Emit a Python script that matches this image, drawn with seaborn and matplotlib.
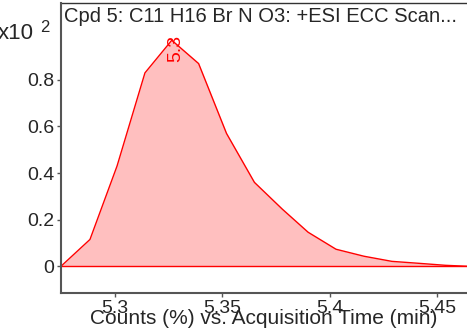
import numpy as np
import pandas as pd
import seaborn as sns
import matplotlib.pyplot as plt

# data
acq_time = [5.2749, 5.2884, 5.3010, 5.3140, 5.3265, 5.3390, 5.3520, 5.3650,
            5.3780, 5.3900, 5.4030, 5.4160, 5.4290, 5.4410, 5.4540, 5.4640]
counts = [0.0, 0.115, 0.43, 0.83, 0.97, 0.87, 0.57, 0.36,
          0.245, 0.146, 0.073, 0.043, 0.021, 0.013, 0.004, 0.0]
peak_label = '5.3'
title = 'Cpd 5: C11 H16 Br N O3: +ESI ECC Scan...'
xticks = [5.3, 5.35, 5.4, 5.45]
xtick_labels = ['5.3', '5.35', '5.4', '5.45']
yticks = [0, 0.2, 0.4, 0.6, 0.8]
ytick_labels = ['0', '0.2', '0.4', '0.6', '0.8']

df = pd.DataFrame({'time': acq_time, 'counts': counts})

sns.set_style('white')
plt.rcParams['font.family'] = ['Liberation Sans', 'DejaVu Sans']

fig = plt.figure(figsize=(4.67, 3.33), dpi=100)
ax = fig.add_axes([0.1306, 0.12, 0.8694, 0.871])

ax.fill_between(df['time'], df['counts'], color='#ffbfbf', lw=0)
sns.lineplot(data=df, x='time', y='counts', color='red', lw=1, ax=ax)
ax.axhline(0, color='red', lw=1)

ax.set_xlim(5.2749, 5.464)
ax.set_ylim(-0.115, 1.13)
ax.set_xticks(xticks)
ax.set_xticklabels(xtick_labels)
ax.set_yticks(yticks)
ax.set_yticklabels(ytick_labels)
ax.tick_params(labelsize=14, length=3, width=1, color='#555555', pad=2,
               bottom=True, left=True)
for s in ['top', 'right']:
    ax.spines[s].set_visible(False)
for s in ['left', 'bottom']:
    ax.spines[s].set_color('#555555')
    ax.spines[s].set_linewidth(1.5)
ax.set_xlabel('Counts (%) vs. Acquisition Time (min)', fontsize=15, labelpad=-6)
ax.set_ylabel('')

# title inside the plot, top-left
ax.text(0.008, 0.985, title, transform=ax.transAxes, fontsize=14.5,
        va='top', ha='left')
ax.plot([0, 1], [1, 1], transform=ax.transAxes, color='#333333', lw=1, clip_on=False)

# multiplier text on the y axis (cut at the left edge like the original)
fig.text(0.073, 0.898, 'x10', fontsize=16, ha='right', va='center')
fig.text(0.086, 0.916, '2', fontsize=12, ha='left', va='center')

# peak label
i = int(np.argmax(counts))
ax.annotate(peak_label, (acq_time[i], counts[i]), xytext=(3, 4),
            textcoords='offset points', color='red', fontsize=14,
            rotation=90, ha='center', va='top')

fig.savefig('out.png', dpi=100)
